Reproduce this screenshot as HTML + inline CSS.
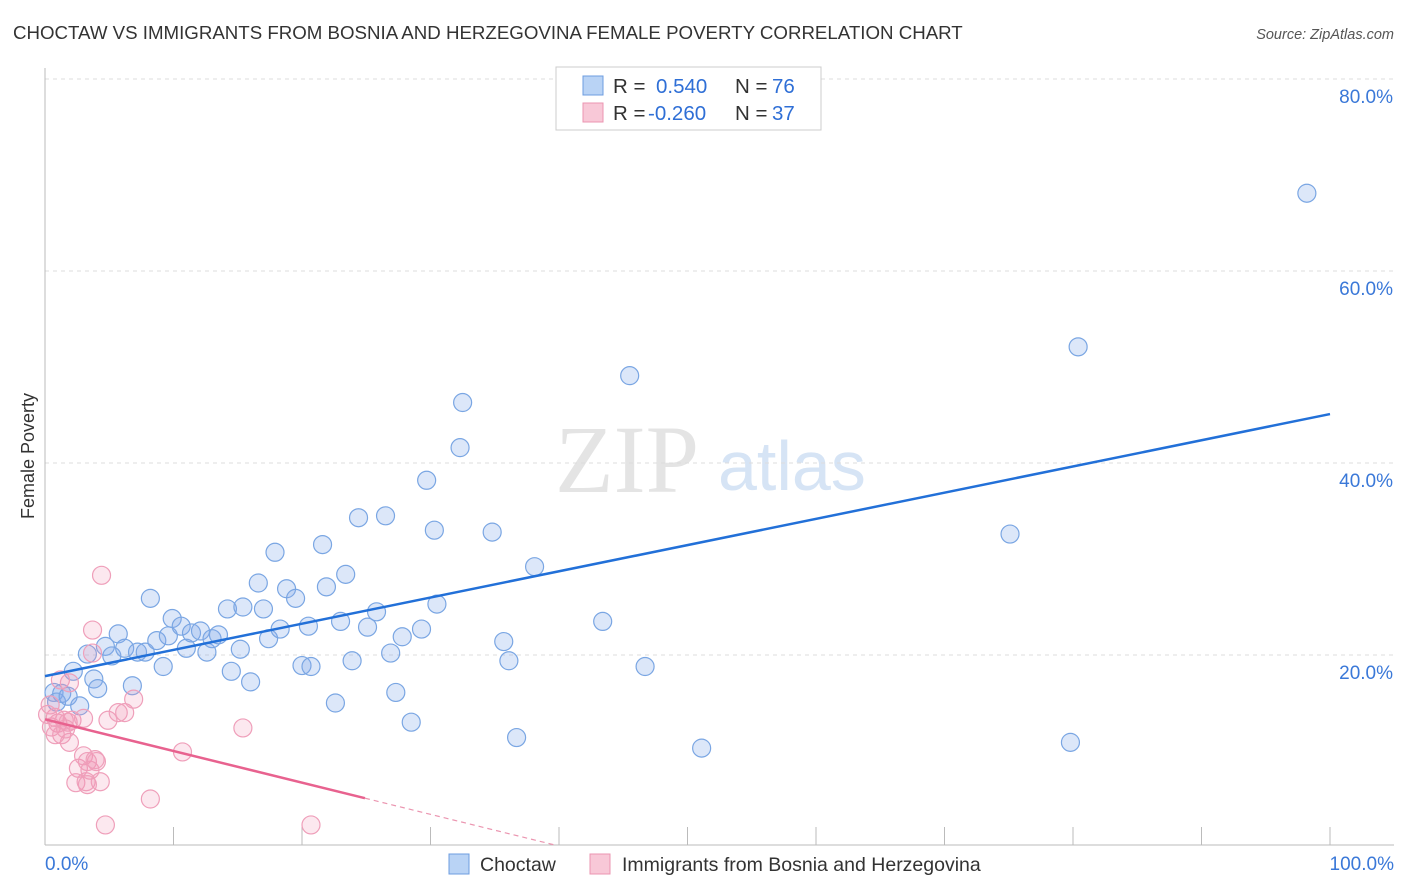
<!DOCTYPE html>
<html><head><meta charset="utf-8"><style>
body{margin:0;background:#fff;font-family:"Liberation Sans",sans-serif}
svg{display:block}
</style></head><body>
<svg id="chart" width="1406" height="892">
<text x="13" y="39" font-size="18.7" fill="#333">CHOCTAW VS IMMIGRANTS FROM BOSNIA AND HERZEGOVINA FEMALE POVERTY CORRELATION CHART</text>
<text x="1394" y="39" font-size="14.5" fill="#555" font-style="italic" text-anchor="end">Source: ZipAtlas.com</text>
<text x="555" y="492" font-size="96" fill="#e4e4e4" font-family="Liberation Serif,serif">ZIP</text>
<text x="718" y="490" font-size="70" fill="#d6e4f5">atlas</text>
<g id="grid"></g>
<g id="axes"></g>
<g id="marks"></g>
<text transform="translate(34,456) rotate(-90)" font-size="18" fill="#333" text-anchor="middle">Female Poverty</text>
<g>
<rect x="556" y="67" width="265" height="63" fill="#fff" stroke="#ccc"/>
<rect x="583" y="76" width="20" height="19" fill="#b9d3f5" stroke="#6d9de0"/>
<text x="613" y="93" font-size="20.5" fill="#333">R = </text><text x="656" y="93" font-size="20.5" fill="#2f6fd6">0.540</text>
<text x="735" y="93" font-size="20.5" fill="#333">N = </text><text x="772" y="93" font-size="20.5" fill="#2f6fd6">76</text>
<rect x="583" y="103" width="20" height="19" fill="#f8c8d7" stroke="#eb95b0"/>
<text x="613" y="120" font-size="20.5" fill="#333">R = </text><text x="648" y="120" font-size="20.5" fill="#2f6fd6">-0.260</text>
<text x="735" y="120" font-size="20.5" fill="#333">N = </text><text x="772" y="120" font-size="20.5" fill="#2f6fd6">37</text>
</g>
<g>
<rect x="449" y="854" width="20" height="20" fill="#b9d3f5" stroke="#6d9de0"/>
<text x="480" y="871" font-size="19.5" fill="#333">Choctaw</text>
<rect x="590" y="854" width="20" height="20" fill="#f8c8d7" stroke="#eb95b0"/>
<text x="622" y="871" font-size="19.5" fill="#333">Immigrants from Bosnia and Herzegovina</text>
</g>
</svg>
<script>
const yTicks=[20,40,60,80];
const xTickLabels=["0.0%","100.0%"];
const blueX=[0.7,0.9,1.3,1.8,2.7,2.2,3.3,3.8,4.1,4.7,5.2,5.7,6.2,6.8,7.2,7.8,8.2,8.7,9.2,9.6,9.9,10.6,11.0,11.4,12.1,12.6,13.0,13.5,14.2,14.5,15.2,15.4,16.0,16.6,17.0,17.4,17.9,18.3,18.8,19.5,20.0,20.5,20.7,21.6,21.9,22.6,23.0,23.4,23.9,24.4,25.1,25.8,26.5,26.9,27.3,27.8,28.5,29.3,29.7,30.3,30.5,32.3,32.5,34.8,35.7,36.1,36.7,38.1,43.4,45.5,46.7,51.1,75.1,79.8,80.4,98.2];
const blueY=[16.1,15.1,16.0,15.7,14.7,18.3,20.1,17.5,16.5,20.9,19.9,22.2,20.7,16.8,20.3,20.3,25.9,21.5,18.8,22.0,23.8,23.0,20.7,22.3,22.5,20.3,21.7,22.1,24.8,18.3,20.6,25.0,17.2,27.5,24.8,21.7,30.7,22.7,26.9,25.9,18.9,23.0,18.8,31.5,27.1,15.0,23.5,28.4,19.4,34.3,22.9,24.5,34.5,20.2,16.1,21.9,13.0,22.7,38.2,33.0,25.3,41.6,46.3,32.8,21.4,19.4,11.4,29.2,23.5,49.1,18.8,10.3,32.6,10.9,52.1,68.1];
const pinkX=[0.4,0.5,0.8,1.0,1.2,1.3,1.5,1.8,1.9,2.1,1.9,2.4,2.6,3.0,3.2,3.3,3.5,3.7,3.7,4.0,4.3,4.4,4.9,5.7,6.2,4.7,6.9,8.2,10.7,15.4,20.7,0.8,0.2,1.6,3.3,3.9,3.0];
const pinkY=[14.8,12.5,13.5,12.9,17.4,11.7,13.2,13.0,10.9,13.2,17.1,6.7,8.2,9.5,6.8,8.9,8.0,20.2,22.6,8.9,6.8,28.3,13.2,14.0,14.0,2.3,15.4,5.0,9.9,12.4,2.3,11.7,13.8,12.3,6.5,9.1,13.4];
const blueTrend=[17.8,45.1];
const pinkTrend=[13.3,0.2];
const pinkTrendEndX=39.7, pinkSolidEndX=24.9;

const NS="http://www.w3.org/2000/svg";
const X=v=>45+v*12.85, Y=v=>847-v*9.6;
function mk(tag,attrs,parent){const e=document.createElementNS(NS,tag);for(const k in attrs)e.setAttribute(k,attrs[k]);parent.appendChild(e);return e;}
const grid=document.getElementById('grid'),axes=document.getElementById('axes'),marks=document.getElementById('marks');
yTicks.forEach(t=>{
  const l=mk('line',{x1:45,x2:1394,y1:Y(t),y2:Y(t),stroke:'#ddd','stroke-dasharray':'4,4'},grid);
  
  
  const tx=mk('text',{x:1393,y:Y(t)+24,'font-size':19,fill:'#3a78d8','text-anchor':'end'},grid);
  tx.textContent=t.toFixed(1)+'%';
  
  
});
const la=mk('line',{x1:45,x2:45,y1:68,y2:845,stroke:'#bbb'},axes);


const ba=mk('line',{x1:45,x2:1394,y1:845,y2:845,stroke:'#bbb'},axes);


for(let i=1;i<=10;i++){
  const t=mk('line',{x1:X(i*10),x2:X(i*10),y1:827,y2:845,stroke:'#bbb'},axes);
  
  
}
[[0,'start',45],[100,'end',1394]].forEach((p,i)=>{
  const tx=mk('text',{x:p[2],y:870,'font-size':19,fill:'#3a78d8','text-anchor':p[1]},axes);
  tx.textContent=xTickLabels[i];
  
  
});
blueX.forEach((v,i)=>{
  const c=mk('circle',{cx:X(v),cy:Y(blueY[i]),r:9,fill:'rgba(130,170,235,0.28)',stroke:'#7aa6e3','stroke-width':1.2},marks);
  
  
});
pinkX.forEach((v,i)=>{
  const c=mk('circle',{cx:X(v),cy:Y(pinkY[i]),r:9,fill:'rgba(240,150,180,0.22)',stroke:'#ef9fba','stroke-width':1.2},marks);
  
  
});
const bt=mk('line',{x1:X(0),y1:Y(blueTrend[0]),x2:X(100),y2:Y(blueTrend[1]),stroke:'#2270d8','stroke-width':2.5},marks);


const py=x=>pinkTrend[0]+(pinkTrend[1]-pinkTrend[0])*x/pinkTrendEndX;
const pt=mk('line',{x1:X(0),y1:Y(pinkTrend[0]),x2:X(pinkSolidEndX),y2:Y(py(pinkSolidEndX)),stroke:'#e8628f','stroke-width':2.5},marks);


const pd=mk('line',{x1:X(pinkSolidEndX),y1:Y(py(pinkSolidEndX)),x2:X(pinkTrendEndX),y2:Y(pinkTrend[1]),stroke:'#eb95b0','stroke-width':1.2,'stroke-dasharray':'5,4'},marks);


</script>
</body></html>
